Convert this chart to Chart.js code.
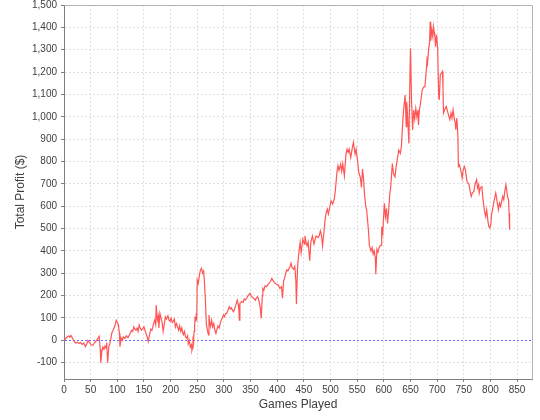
<!DOCTYPE html>
<html>
<head>
<meta charset="utf-8">
<script src="https://cdn.jsdelivr.net/npm/chart.js@4.4.1/dist/chart.umd.min.js"></script>
<style>
  html, body { margin: 0; padding: 0; background: #ffffff; }
  #wrap { width: 540px; height: 420px; }
</style>
</head>
<body>
<div id="wrap"><canvas id="c" width="540" height="420"></canvas></div>
<script>
// ---- data ----
const games = [
  0,3,6,9,11,13,16,19,22,25,28,31,34,37,40,43,45,48,51,54,57,61,64,66,68,69,71,73,75,77,79,80,82,84,86,88,90,93,96,98,100,
  102,104,105,107,109,111,114,117,120,123,125,127,129,131,133,135,137,139,141,143,145,147,150,152,154,156,158,160,163,165,
  168,170,172,173,175,177,178,180,182,184,186,188,190,192,195,197,199,201,203,205,207,209,211,213,215,217,219,221,223,224,
  226,228,230,232,233,235,237,239,240,241,242,243,244,245,246,247,248,249,
  250,252,254,256,258,260,262,263,265,267,269,271,272,273,275,277,279,281,283,285,287,289,291,293,295,297,299,301,303,305,
  307,310,312,314,316,318,320,322,325,327,328,329,330,333,336,338,340,343,346,349,352,355,357,359,361,363,365,368,370,372,
  373,375,377,380,383,387,390,392,394,396,399,402,405,408,410,412,414,416,418,420,422,424,426,428,431,433,435,436,438,440,
  443,445,448,451,452,454,456,458,461,463,466,469,471,473,477,479,481,483,485,487,490,492,494,496,499,501,504,507,509,512,
  514,516,519,521,523,526,529,531,533,535,538,541,543,546,548,551,553,556,558,560,562,564,566,568,571,573,576,578,580,582,
  584,585,587,589,592,595,596,598,601,603,605,607,609,611,613,616,618,621,623,626,628,631,633,635,637,640,642,643,645,647,
  649,650,652,654,656,658,660,662,664,665,667,668,670,672,675,677,679,681,682,684,686,687,688,690,692,693,695,696,697,699,
  701,703,704,706,708,710,711,712,714,717,719,722,724,726,728,730,732,734,735,737,739,740,742,745,747,749,751,753,756,758,
  760,762,764,766,769,771,774,776,778,779,781,784,786,787,789,791,793,795,797,799,801,802,804,806,808,810,812,814,815,817,
  819,821,823,825,827,829,830,832,834,835,836
];
const profit = [
  0,8,15,20,14,22,10,-5,-12,-8,-14,-10,-18,-12,-28,-15,0,-10,-20,-22,-12,0,10,18,-40,-100,-50,-30,-40,-25,-35,-10,-100,-30,-15,10,35,50,70,90,80,
  70,30,-28,10,0,15,8,20,12,25,35,45,40,60,50,45,55,40,68,55,45,50,60,45,30,15,-5,20,50,45,
  75,90,70,158,90,110,55,120,100,80,40,70,105,95,110,90,85,100,80,85,95,60,75,60,45,65,40,55,30,25,
  40,15,10,20,-15,0,-30,-20,-45,-35,0,-10,40,60,105,85,110,100,
  270,255,290,315,322,300,310,277,195,76,46,24,113,85,61,90,60,75,45,31,50,65,55,76,90,100,113,105,120,120,
  130,150,140,145,135,128,140,155,180,160,136,90,165,173,170,185,180,190,202,210,195,190,185,180,190,195,185,150,98,200,
  232,225,243,240,250,262,277,268,260,255,250,248,232,240,188,265,280,300,315,310,320,330,345,325,318,330,266,162,318,378,
  438,393,453,430,467,440,423,440,356,438,467,430,450,467,460,470,490,470,423,470,542,572,587,565,602,625,609,631,668,751,
  781,760,788,755,790,736,833,855,840,855,818,863,885,833,855,796,751,728,684,766,721,646,602,579,497,423,400,415,385,400,
  370,296,407,395,420,426,508,480,613,553,590,523,580,650,687,791,746,731,775,821,851,836,866,956,1030,1097,956,1067,985,881,
  1179,1306,1075,941,1030,990,1037,1000,1030,963,1037,1045,1082,1120,1134,1134,1187,1254,1240,1299,1336,1425,1340,1388,1358,1403,1373,1358,1313,1366,
  1306,1090,1075,1188,1196,1203,1128,1017,1030,1046,1030,1002,987,1017,994,1031,994,972,942,994,912,778,785,755,726,763,778,763,711,703,
  696,666,644,659,666,696,718,681,696,659,681,688,629,614,577,554,584,539,509,502,524,562,584,614,636,659,629,599,584,614,
  599,621,644,629,666,696,681,644,629,569,495
];
const xTitle = 'Games Played';
const yTitle = 'Total Profit ($)';

const points = games.map((g, i) => ({ x: g, y: profit[i] }));

const outline = {
  id: 'outline',
  afterDraw(chart) {
    const a = chart.chartArea, ctx = chart.ctx;
    ctx.save();
    ctx.strokeStyle = '#b4b4b4';
    ctx.lineWidth = 1;
    ctx.beginPath();
    ctx.moveTo(Math.round(a.left) + 0.5, Math.round(a.top) + 0.5);
    ctx.lineTo(Math.round(a.right) + 0.5, Math.round(a.top) + 0.5);
    ctx.lineTo(Math.round(a.right) + 0.5, Math.round(a.bottom) + 0.5);
    ctx.stroke();
    ctx.restore();
  }
};

Chart.defaults.font.family = "'Liberation Sans', Arial, sans-serif";

new Chart(document.getElementById('c'), {
  type: 'line',
  data: {
    datasets: [{
      data: points,
      borderColor: '#ff5555',
      borderWidth: 1.2,
      pointRadius: 0,
      tension: 0,
      fill: false
    }]
  },
  options: {
    responsive: false,
    animation: false,
    events: [],
    layout: { padding: { top: 5, right: 8, left: 0, bottom: 0 } },
    plugins: { legend: { display: false }, tooltip: { enabled: false } },
    scales: {
      x: {
        type: 'linear',
        min: 0,
        max: 878,
        afterFit(s) { s.height = 41; s.paddingLeft = 0; s.paddingRight = 0; },
        ticks: {
          stepSize: 50,
          includeBounds: false,
          maxRotation: 0,
          autoSkip: false,
          padding: 2,
          color: '#404040',
          font: { size: 10 }
        },
        grid: {
          color: '#e0e0e0',
          tickColor: '#808080',
          tickLength: 3,
          lineWidth: 1
        },
        border: { color: '#808080', dash: [2, 2] },
        title: {
          display: true,
          text: xTitle,
          color: '#404040',
          font: { size: 12 },
          padding: { top: 0, bottom: 8 }
        }
      },
      y: {
        type: 'linear',
        min: -173,
        max: 1500,
        afterFit(s) { s.width = 64; s.paddingTop = 0; s.paddingBottom = 0; },
        ticks: {
          stepSize: 100,
          includeBounds: false,
          padding: 4,
          color: '#404040',
          font: { size: 10 },
          callback: v => Number(v).toLocaleString('en-US')
        },
        grid: {
          color: c => (c.tick && c.tick.value === 0) ? '#6a6aff' : '#e0e0e0',
          tickColor: '#808080',
          tickLength: 3,
          lineWidth: 1
        },
        border: { color: '#808080', dash: [2, 2] },
        title: {
          display: true,
          text: yTitle,
          color: '#404040',
          font: { size: 12 },
          padding: { top: 13, bottom: 0 }
        }
      }
    }
  },
  plugins: [outline]
});
</script>
</body>
</html>
